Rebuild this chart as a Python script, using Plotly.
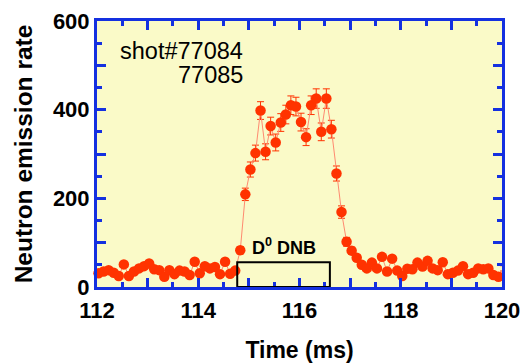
import plotly.graph_objects as go

# ---- data ----
t_start = 112.03
t_step = 0.1
rate = [
    31, 35, 38, 32, 25, 51, 25, 35, 42, 47,
    53, 40, 38, 23, 38, 29, 37, 35, 27, 57,
    31, 47, 42, 45, 29, 57, 30, 37, 83, 209,
    265, 302, 398, 305, 363, 326, 371, 389, 410, 407,
    372, 338, 410, 425, 350, 425, 356, 256, 169, 102,
    82, 66, 50, 42, 55, 42, 68, 35, 64, 37,
    25, 41, 40, 55, 46, 59, 42, 38, 56, 29,
    32, 37, 47, 29, 32, 42, 40, 42, 27, 23,
    42,
]
rate_err = [
    6, 6, 6, 6, 6, 6, 6, 6, 6, 6,
    6, 6, 6, 6, 6, 6, 6, 6, 6, 6,
    6, 6, 6, 6, 6, 6, 6, 6, 8, 14,
    17, 18, 20, 18, 20, 19, 20, 21, 21, 21,
    20, 19, 21, 22, 20, 22, 20, 17, 14, 10,
    8, 7, 6, 6, 6, 6, 6, 6, 6, 6,
    6, 6, 6, 6, 6, 6, 6, 6, 6, 6,
    6, 6, 6, 6, 6, 6, 6, 6, 6, 6,
    6,
]
time_ms = [round(t_start + t_step * i, 3) for i in range(len(rate))]

nb_start, nb_end, nb_level = 114.77, 116.6, 56
x_ticks = [112, 113, 114, 115, 116, 117, 118, 119, 120]
x_ticklabels = ["112", "", "114", "", "116", "", "118", "", "120"]
y_ticks = [0, 100, 200, 300, 400, 500, 600]
y_ticklabels = ["0", "", "200", "", "400", "", "600"]

BLUE = "#1430E0"
RED = "#FF3300"
FONT = "Liberation Sans"

fig = go.Figure()
fig.add_trace(go.Scatter(
    x=time_ms, y=rate, mode="lines+markers",
    line=dict(color="#FF8A70", width=1),
    marker=dict(color=RED, size=10.5),
    error_y=dict(type="data", array=rate_err, color=RED, thickness=1, width=3.5),
    cliponaxis=False, showlegend=False,
))

fig.add_shape(type="rect", x0=nb_start, x1=nb_end, y0=0, y1=nb_level,
              xref="x", yref="y", line=dict(color="black", width=2),
              fillcolor="rgba(0,0,0,0)", layer="above")
fig.add_annotation(x=(nb_start + nb_end) / 2, y=nb_level, xref="x", yref="y",
                   text="<b>D<sup>0</sup> DNB</b>", showarrow=False,
                   yanchor="bottom", yshift=2,
                   font=dict(family=FONT, size=18, color="black"))
fig.add_annotation(x=0.366, y=0.887, xref="paper", yref="paper",
                   text="shot#77084", showarrow=False, xanchor="right", yanchor="middle",
                   font=dict(family=FONT, size=23.5, color="black"))
fig.add_annotation(x=0.366, y=0.797, xref="paper", yref="paper",
                   text="77085", showarrow=False, xanchor="right", yanchor="middle",
                   font=dict(family=FONT, size=23.5, color="black"))

axis_common = dict(
    showline=True, linecolor=BLUE, linewidth=3, mirror="ticks",
    ticks="inside", tickcolor=BLUE, tickwidth=2.5, ticklen=9,
    showgrid=False, zeroline=False, automargin=False,
    tickfont=dict(family=FONT, size=22, color="black", weight="bold"),
)

fig.update_xaxes(
    range=[112, 120], tickmode="array", tickvals=x_ticks, ticktext=x_ticklabels,
    ticklabelstandoff=2,
    minor=dict(tick0=112, dtick=0.5, ticks="inside", ticklen=5, tickwidth=2.5, tickcolor=BLUE),
    title=dict(text="Time (ms)", font=dict(family=FONT, size=23, color="black", weight="bold"),
               standoff=20),
    **axis_common,
)
fig.update_yaxes(
    range=[0, 600], tickmode="array", tickvals=y_ticks, ticktext=y_ticklabels,
    minor=dict(tick0=0, dtick=50, ticks="inside", ticklen=5, tickwidth=2.5, tickcolor=BLUE),
    title=dict(text="Neutron emission rate", font=dict(family=FONT, size=24.5, color="black", weight="bold"),
               standoff=14),
    **axis_common,
)

fig.update_layout(
    width=525, height=363,
    margin=dict(l=97, r=23, t=21, b=76),
    paper_bgcolor="white", plot_bgcolor="#FAFAC8",
)

fig.write_html("out.html")
